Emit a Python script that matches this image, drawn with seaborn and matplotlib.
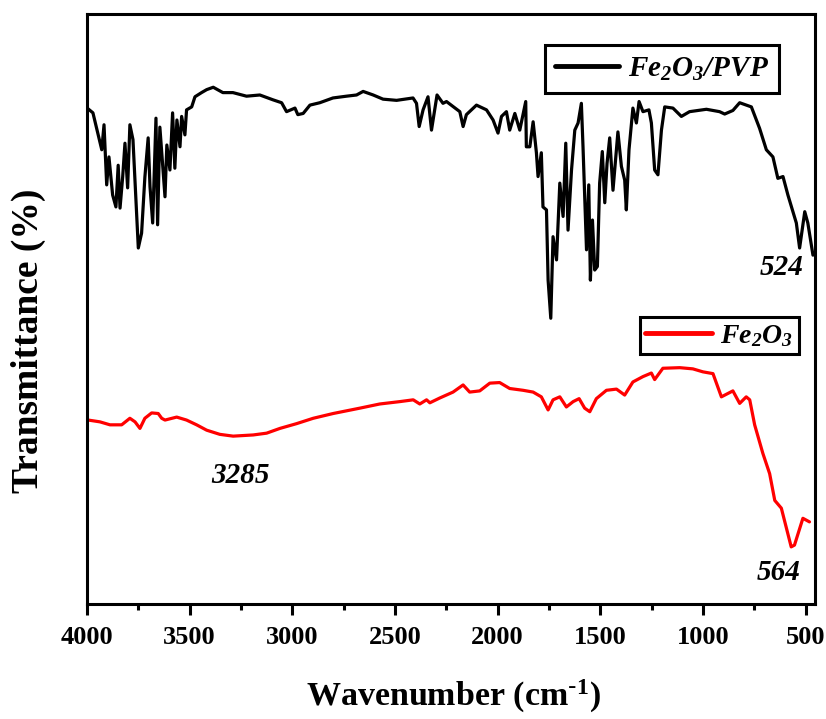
import matplotlib
matplotlib.use("Agg")
import matplotlib.pyplot as plt
from matplotlib.lines import Line2D
from matplotlib.ticker import MultipleLocator
from matplotlib.font_manager import FontProperties
import seaborn as sns

wn_pvp = [3999, 3971, 3951, 3928, 3917, 3904, 3893, 3875, 3859, 3848, 3839, 3826,
          3815, 3802, 3791, 3776, 3750, 3734, 3718, 3702, 3693, 3680, 3664, 3656,
          3645, 3620, 3611, 3596, 3583, 3572, 3562, 3547, 3539, 3523, 3515, 3490,
          3474, 3442, 3417, 3385, 3338, 3289, 3223, 3158, 3095, 3052, 3028, 2987,
          2973, 2947, 2914, 2866, 2802, 2736, 2687, 2655, 2606, 2558, 2492, 2412,
          2395, 2382, 2363, 2339, 2322, 2295, 2266, 2249, 2184, 2168, 2152, 2103,
          2054, 2022, 1998, 1981, 1957, 1941, 1916, 1892, 1863, 1860, 1843, 1827,
          1811, 1803, 1787, 1779, 1762, 1754, 1741, 1730, 1713, 1697, 1681, 1668,
          1657, 1640, 1624, 1608, 1592, 1584, 1567, 1556, 1548, 1538, 1527, 1514,
          1503, 1490, 1478, 1467, 1454, 1438, 1414, 1397, 1381, 1373, 1360, 1341,
          1324, 1311, 1292, 1263, 1251, 1235, 1219, 1202, 1186, 1146, 1105, 1065,
          983, 919, 894, 854, 821, 764, 724, 691, 659, 635, 610, 586, 545, 529,
          504, 489, 464]
t_pvp = [83.5, 82.7, 79.8, 76.5, 80.7, 70.6, 75.3, 68.9, 66.9, 73.9, 66.7, 72.0,
         77.6, 70.1, 80.7, 78.2, 60.0, 62.5, 71.9, 78.5, 70.3, 64.2, 81.8, 63.9,
         80.3, 68.6, 77.3, 73.1, 82.7, 73.4, 81.5, 77.0, 82.1, 79.0, 83.2, 83.7,
         85.4, 86.1, 86.6, 87.0, 86.1, 86.1, 85.5, 85.7, 84.9, 84.4, 82.9, 83.5,
         82.4, 82.6, 84.0, 84.4, 85.2, 85.5, 85.7, 86.3, 85.7, 85.0, 84.8, 85.2,
         84.3, 80.4, 83.2, 85.4, 79.8, 85.7, 84.3, 84.6, 82.9, 80.4, 82.4, 84.0,
         83.2, 81.5, 79.3, 82.1, 82.9, 79.8, 82.6, 79.8, 84.6, 77.0, 77.0, 81.2,
         76.0, 72.0, 76.0, 66.9, 66.4, 54.6, 48.2, 61.9, 58.0, 70.9, 65.3, 77.6,
         63.0, 73.1, 79.8, 81.0, 84.3, 77.0, 59.7, 70.6, 54.6, 64.7, 56.3, 56.9,
         70.9, 76.2, 67.6, 74.2, 78.5, 69.7, 79.5, 73.7, 71.4, 66.4, 76.5, 83.5,
         81.0, 84.6, 82.9, 83.2, 81.0, 73.1, 72.3, 79.8, 83.7, 83.5, 82.1, 82.9,
         83.3, 82.9, 82.5, 83.1, 84.4, 83.7, 80.1, 76.5, 75.3, 71.7, 72.0, 68.9,
         64.2, 60.0, 66.1, 64.2, 58.8]

wn_fe = [3994, 3937, 3888, 3831, 3791, 3766, 3742, 3718, 3685, 3653, 3636, 3620,
         3563, 3515, 3466, 3417, 3353, 3288, 3190, 3125, 3060, 2979, 2898, 2801,
         2671, 2574, 2476, 2411, 2379, 2346, 2330, 2282, 2217, 2168, 2136, 2087,
         2038, 1990, 1941, 1876, 1827, 1787, 1754, 1730, 1697, 1665, 1632, 1603,
         1576, 1551, 1519, 1470, 1421, 1381, 1341, 1292, 1251, 1235, 1195, 1113,
         1049, 1000, 951, 910, 854, 821, 789, 772, 748, 708, 675, 650, 618, 570,
         554, 513, 481]
t_fe = [31.1, 30.8, 30.3, 30.3, 31.4, 30.8, 29.7, 31.4, 32.3, 32.2, 31.4, 31.1,
        31.6, 31.1, 30.3, 29.4, 28.7, 28.4, 28.6, 28.9, 29.7, 30.5, 31.4, 32.2,
        33.1, 33.8, 34.2, 34.5, 33.8, 34.5, 34.0, 34.8, 35.8, 37.0, 35.8, 36.0,
        37.3, 37.4, 36.4, 36.1, 35.8, 35.0, 32.8, 34.5, 35.0, 33.3, 34.2, 34.7,
        33.1, 32.5, 34.7, 36.1, 36.3, 35.3, 37.5, 38.4, 39.0, 37.9, 39.8, 39.9,
        39.7, 39.2, 38.9, 35.0, 36.0, 33.9, 35.0, 34.5, 30.3, 25.5, 22.1, 17.6,
        16.3, 9.8, 10.1, 14.6, 14.0]

# etiquetas de picos y su posición (cm-1, u.a.)
peak_labels = ["524", "3285", "564"]
peak_x = [615, 3250, 629]
peak_y = [56.8, 21.8, 5.5]

sns.set_style("white")
plt.rcParams['font.family'] = ['Liberation Serif', 'DejaVu Serif']
plt.rcParams['mathtext.default'] = 'regular'
plt.rcParams['text.color'] = 'black'
plt.rcParams['axes.labelcolor'] = 'black'
plt.rcParams['xtick.color'] = 'black'

fig = plt.figure(figsize=(8.26, 7.19), dpi=100)
ax = fig.add_axes([0.1053, 0.1599, 0.8814, 0.8206])

sns.lineplot(x=wn_pvp, y=t_pvp, color='black', lw=2.3, sort=False,
             estimator=None, ax=ax)
sns.lineplot(x=wn_fe, y=t_fe, color='#ff0000', lw=2.3, sort=False,
             estimator=None, ax=ax)

ax.set_xlim(4000, 454)
ax.set_ylim(0.2, 99.3)
ax.xaxis.set_major_locator(MultipleLocator(500))
ax.xaxis.set_minor_locator(MultipleLocator(250))
ax.set_yticks([])
ax.tick_params(axis='x', which='major', direction='out', length=8, width=2.2,
               pad=8, labelsize=19, bottom=True)
ax.tick_params(axis='x', which='minor', direction='out', length=4.5, width=2.2,
               bottom=True)
for lab in ax.get_xticklabels():
    lab.set_fontweight('bold')
for s in ax.spines.values():
    s.set_linewidth(2.2)
    s.set_color('black')

ax.set_xlabel(r'Wavenumber (cm$^{\text{-}1}$)', fontsize=24.5, fontweight='bold')
ax.xaxis.set_label_coords(0.503, -0.125)
ax.set_ylabel('Transmittance (%)', fontsize=27, fontweight='bold')
ax.yaxis.set_label_coords(-0.056, 0.446)

# --- Leyendas separadas ---
leg_font1 = FontProperties(family='Liberation Serif', weight='bold', style='italic', size=21)
leg_font2 = FontProperties(family='Liberation Serif', weight='bold', style='italic', size=20)

h1 = Line2D([], [], color='black', lw=3.5)
leg1 = ax.legend([h1], ['Fe$_2$O$_3$/PVP'], loc='upper right',
                 bbox_to_anchor=(0.9505, 0.947), borderaxespad=0, prop=leg_font1,
                 fancybox=False, framealpha=1, edgecolor='black', handlelength=2.2,
                 borderpad=0.35, handletextpad=0.3)
leg1.get_frame().set_linewidth(2.2)
ax.add_artist(leg1)

h2 = Line2D([], [], color='#ff0000', lw=3.5)
leg2 = ax.legend([h2], ['Fe$_2$O$_3$'], loc='upper right',
                 bbox_to_anchor=(0.978, 0.486), borderaxespad=0, prop=leg_font2,
                 fancybox=False, framealpha=1, edgecolor='black', handlelength=2.4,
                 borderpad=0.2, handletextpad=0.3)
leg2.get_frame().set_linewidth(2.2)

for txt, x, y in zip(peak_labels, peak_x, peak_y):
    ax.text(x, y, txt, fontsize=21, fontweight='bold', fontstyle='italic',
            ha='center', va='center')

fig.savefig('out.png', dpi=100)
